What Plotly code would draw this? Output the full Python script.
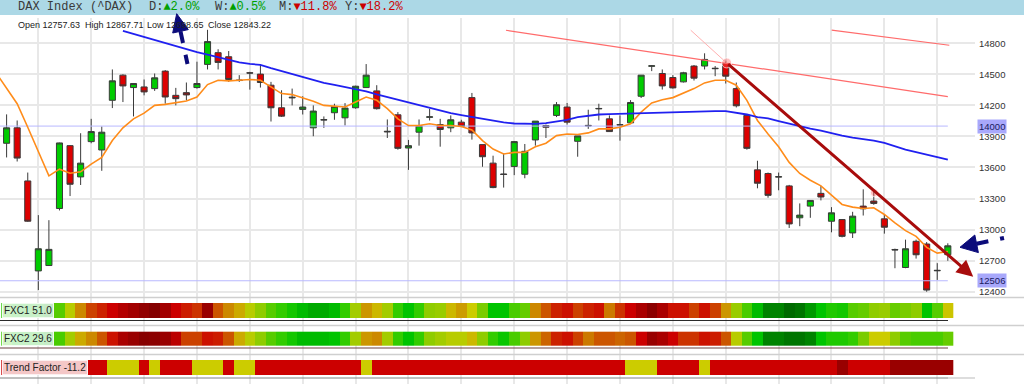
import plotly.graph_objects as go

# ---------------- data ----------------
idx = list(range(90))
opens = [13834, 13983, 13470, 12601, 12653, 13204, 13811, 13509, 13850, 13769,
         14249, 14492, 14372, 14378, 14362, 14531, 14297, 14323, 14372, 14596,
         14709, 14670, 14445, 14515, 14502, 14395, 14177, 14272, 14161, 13983,
         14058, 14129, 14080, 14177, 14372, 14340, 13950, 14109, 13788, 13941,
         14085, 14015, 13983, 14038, 14275, 13821, 13642, 13537, 13610, 13535,
         13866, 14005, 14103, 14184, 13853, 14007, 14166, 14070, 14014, 14031,
         14288, 14578, 14508, 14469, 14427, 14580, 14580, 14559, 14605, 14362,
         14103, 13577, 13542, 13507, 13422, 13114, 13227, 13350, 13081, 13097,
         12968, 13227, 13276, 13104, 12808, 12634, 12887, 12861, 12602, 12757.63]
highs = [14113, 14054, 13551, 13140, 13091, 13840, 13815, 13931, 14070, 13996,
         14547, 14500, 14411, 14450, 14508, 14541, 14369, 14421, 14622, 14930,
         14742, 14725, 14492, 14524, 14599, 14427, 14346, 14362, 14288, 14200,
         14093, 14216, 14222, 14390, 14599, 14395, 14064, 14135, 13866, 14064,
         14168, 14070, 14103, 14061, 14320, 13821, 13714, 13736, 13855, 13827,
         14048, 14015, 14232, 14223, 13905, 14158, 14216, 14103, 14103, 14251,
         14492, 14590, 14547, 14492, 14524, 14590, 14703, 14580, 14631, 14421,
         14110, 13665, 13551, 13551, 13432, 13253, 13285, 13422, 13217, 13100,
         13172, 13389, 13389, 13146, 12816, 12903, 12903, 12880, 12676, 12867.71]
lows = [13697, 13658, 13075, 12416, 12650, 13185, 13324, 13431, 13834, 13568,
        14174, 14232, 14093, 14297, 14340, 14216, 14200, 14249, 14362, 14547,
        14547, 14427, 14427, 14352, 14372, 14044, 14088, 14200, 14112, 13902,
        13983, 14061, 14006, 14168, 14372, 14160, 13885, 13772, 13577, 13811,
        14054, 13801, 13941, 13990, 13869, 13607, 13400, 13406, 13526, 13496,
        13811, 13885, 14087, 14015, 13704, 13973, 14054, 13947, 13859, 14022,
        14271, 14531, 14353, 14362, 14421, 14440, 14547, 14482, 14411, 14180,
        13772, 13399, 13308, 13380, 13016, 13033, 13114, 13282, 12974, 12925,
        12919, 13136, 13240, 12961, 12627, 12627, 12720, 12400, 12514, 12698.65]
closes = [13983, 13691, 13081, 12815, 12809, 13837, 13438, 13642, 13947, 13941,
          14437, 14388, 14411, 14330, 14466, 14281, 14265, 14301, 14411, 14816,
          14615, 14450, 14440, 14512, 14421, 14177, 14096, 14278, 14184, 14145,
          14062, 14190, 14174, 14385, 14492, 14168, 13945, 13785, 13811, 14005,
          14089, 13967, 14061, 13996, 13934, 13704, 13406, 13533, 13850, 13756,
          14048, 13989, 14206, 14038, 13905, 14003, 14170, 13947, 14010, 14228,
          14492, 14582, 14388, 14369, 14515, 14463, 14644, 14555, 14482, 14196,
          13785, 13448, 13331, 13511, 13055, 13140, 13282, 13315, 13162, 12935,
          13130, 13201, 13253, 13023, 12804, 12815, 12757, 12416, 12606, 12843.22]

ma_fast_x = [-1] + idx
ma_fast = [14514,
           14370, 14216, 13989, 13762, 13519, 13584, 13545, 13558, 13632, 13697,
           13860, 13983, 14070, 14125, 14200, 14210, 14223, 14242, 14281, 14401,
           14443, 14437, 14443, 14450, 14443, 14378, 14314, 14304, 14275, 14239,
           14200, 14190, 14184, 14232, 14281, 14249, 14168, 14070, 14005, 14005,
           14022, 14005, 14005, 13996, 13963, 13860, 13778, 13730, 13746, 13746,
           13801, 13834, 13908, 13924, 13918, 13934, 13973, 13973, 13989, 14022,
           14135, 14223, 14255, 14275, 14320, 14362, 14417, 14443, 14443, 14395,
           14249, 14054, 13924, 13801, 13649, 13542, 13477, 13422, 13334, 13243,
           13217, 13204, 13211, 13146, 13065, 12990, 12935, 12828, 12773, 12789]
ma_slow_x = idx[11:]
ma_slow = [14919, 14890, 14856, 14830, 14800, 14768, 14738, 14715, 14690,
           14665, 14642, 14616, 14600, 14592, 14560, 14531, 14508, 14476, 14450,
           14417, 14398, 14378, 14356, 14336, 14307, 14281, 14255, 14223, 14197,
           14171, 14148, 14125, 14106, 14087, 14067, 14051, 14035, 14025, 14022,
           14022, 14028, 14044, 14061, 14087, 14100, 14112, 14116, 14119, 14125,
           14129, 14132, 14135, 14135, 14138, 14138, 14142, 14145, 14145, 14132,
           14112, 14087, 14074, 14048, 14022, 13999, 13976, 13957, 13931, 13908,
           13889, 13876, 13860, 13837, 13801, 13772, 13749, 13727, 13701, 13675]

fxc1 = [32, 27, 26, 25, 15, 38, 48, 60, 70, 75,
        80, 86, 90, 94, 97, 90, 80, 76, 72, 92,
        67, 60, 55, 48, 44, 38, 33, 30, 26, 22,
        22, 26, 33, 46, 58, 53, 46, 33, 28, 33,
        44, 45, 53, 57, 50, 42, 28, 28, 36, 40,
        60, 67, 75, 78, 70, 75, 78, 62, 72, 80,
        88, 95, 88, 78, 78, 70, 78, 70, 58, 45,
        36, 26, 10, 10, 2, 6, 15, 28, 31, 30,
        38, 40, 44, 45, 40, 42, 44, 28, 38, 51]
fxc2 = [34, 28, 27, 27, 22, 36, 46, 55, 60, 67,
        78, 88, 92, 96, 95, 92, 84, 70, 70, 78,
        76, 67, 55, 48, 44, 38, 33, 30, 26, 26,
        26, 28, 33, 46, 58, 60, 46, 33, 28, 33,
        44, 46, 48, 48, 53, 44, 33, 29, 36, 44,
        58, 65, 75, 78, 70, 62, 67, 67, 65, 67,
        80, 92, 88, 80, 72, 72, 78, 76, 67, 48,
        38, 28, 10, 10, 6, 6, 10, 28, 31, 31,
        33, 42, 50, 50, 44, 38, 36, 36, 36, 40]
# 0 = neutral (yellow), 1 = down (red), 2 = strong down (dark red)
trend = [1, 1, 1, 1, 1, 1, 1, 1, 1, 1,
         0, 0, 0, 1, 0, 1, 1, 1, 0, 0,
         0, 1, 0, 0, 1, 1, 1, 1, 1, 1,
         1, 1, 1, 1, 0, 1, 1, 1, 1, 1,
         1, 1, 1, 1, 1, 1, 1, 1, 1, 1,
         1, 1, 1, 1, 1, 1, 1, 1, 1, 0,
         0, 0, 1, 1, 1, 1, 0, 1, 1, 1,
         1, 1, 1, 1, 1, 1, 1, 1, 1, 2,
         1, 1, 1, 1, 2, 2, 2, 2, 2, 2]

price_ticks = [12400, 12700, 13000, 13300, 13600, 13900, 14200, 14500, 14800]
level_values = [14000, 12506]
week_ticks = list(range(3, 90, 5))
channel_lower_x = [47.22, 89.0]
channel_lower_y = [14926, 14284]
channel_upper_x = [78.02, 89.14]
channel_upper_y = [14926, 14781]
guide_x = [64.69, 68.09]
guide_y = [14926, 14610]
trend_arrow_x = [68.09, 91.4]
trend_arrow_y = [14610, 12545]
touch_x = [68.09, 82.05]
touch_y = [14610, 13357]

header_parts = [("DAX Index (^DAX)", None, 16),
                ("D:", ("▲2.0%", "#00a000"), 146.7),
                ("W:", ("▲0.5%", "#00a000"), 212.7),
                ("M:", ("▼11.8%", "#cc0000"), 276.7),
                ("Y:", ("▼18.2%", "#cc0000"), 343.3)]
info_parts = [("Open 12757.63", 16), ("High 12867.71", 83),
              ("Low 12698.65", 145), ("Close 12843.22", 206)]
strip_labels = [("FXC1 51.0", "y2"), ("FXC2 29.6", "y3"), ("Trend Factor -11.2", "y4")]

# ---------------- geometry helpers ----------------
W, H = 1024, 384
ML, MR, MT, MB = 0, 49, 18, 0
PW = W - ML - MR
PH = H - MT - MB


def px(x):
    return (x - ML) / PW


def py(y):
    return (H - MB - y) / PH


XR = [-0.624, 91.57]
GRID = "#e8e8e8"

fig = go.Figure()

# level lines
for lv in level_values:
    fig.add_trace(go.Scatter(x=[XR[0], idx[-1]], y=[lv, lv], mode="lines",
                             line=dict(color="#b8b8ff", width=1), hoverinfo="skip",
                             showlegend=False, xaxis="x", yaxis="y"))

# channel lines
fig.add_trace(go.Scatter(x=channel_lower_x, y=channel_lower_y, mode="lines",
                         line=dict(color="#ff6b6b", width=1.2), hoverinfo="skip", showlegend=False))
fig.add_trace(go.Scatter(x=channel_upper_x, y=channel_upper_y, mode="lines",
                         line=dict(color="#ff6b6b", width=1.2), hoverinfo="skip", showlegend=False))
fig.add_trace(go.Scatter(x=guide_x, y=guide_y, mode="lines",
                         line=dict(color="#ffb0b0", width=1), hoverinfo="skip", showlegend=False))

# candles
fig.add_trace(go.Candlestick(
    x=idx, open=opens, high=highs, low=lows, close=closes,
    increasing=dict(fillcolor="#00cc00", line=dict(color="#3a3a3a", width=1)),
    decreasing=dict(fillcolor="#dd0000", line=dict(color="#3a3a3a", width=1)),
    whiskerwidth=0, hoverinfo="skip", showlegend=False, xaxis="x", yaxis="y"))

# moving averages
fig.add_trace(go.Scatter(x=ma_fast_x, y=ma_fast, mode="lines",
                         line=dict(color="#ff8c1a", width=1.6), hoverinfo="skip", showlegend=False))
fig.add_trace(go.Scatter(x=ma_slow_x, y=ma_slow, mode="lines",
                         line=dict(color="#2020f0", width=1.8), hoverinfo="skip", showlegend=False))

# touch points
fig.add_trace(go.Scatter(x=touch_x, y=touch_y, mode="markers",
                         marker=dict(size=[10, 8], color="rgba(255,90,90,0.55)"),
                         hoverinfo="skip", showlegend=False))

# indicator strips
fxc_scale = [[0.00, "#006400"], [0.08, "#007a00"], [0.15, "#009900"], [0.22, "#00aa00"],
             [0.28, "#00c400"], [0.33, "#33cc00"], [0.40, "#66cc00"], [0.45, "#99cc00"],
             [0.50, "#cccc00"], [0.56, "#cca300"], [0.60, "#cc8800"], [0.67, "#cc5500"],
             [0.72, "#cc3300"], [0.78, "#cc1100"], [0.80, "#cc0000"], [0.88, "#aa0000"],
             [0.92, "#990000"], [1.00, "#770000"]]
tf_scale = [[0, "#cccc00"], [0.25, "#cccc00"], [0.25, "#cc0000"], [0.75, "#cc0000"],
            [0.75, "#990000"], [1, "#990000"]]
fig.add_trace(go.Heatmap(x=idx, y=[0], z=[fxc1], zmin=0, zmax=100, colorscale=fxc_scale,
                         showscale=False, hoverinfo="skip", xaxis="x2", yaxis="y2"))
fig.add_trace(go.Heatmap(x=idx, y=[0], z=[fxc2], zmin=0, zmax=100, colorscale=fxc_scale,
                         showscale=False, hoverinfo="skip", xaxis="x3", yaxis="y3"))
fig.add_trace(go.Heatmap(x=idx, y=[0], z=[trend], zmin=0, zmax=2, colorscale=tf_scale,
                         showscale=False, hoverinfo="skip", xaxis="x4", yaxis="y4"))

# ---------------- axes ----------------
xcommon = dict(range=XR, tickvals=week_ticks, showgrid=True, gridcolor=GRID, gridwidth=1.5,
               showticklabels=False, zeroline=False, showline=False, ticks="",
               fixedrange=True)
fig.update_layout(
    width=W, height=H,
    margin=dict(l=ML, r=MR, t=MT, b=MB),
    paper_bgcolor="white", plot_bgcolor="white",
    showlegend=False,
    boxgap=0.18,
    xaxis=dict(**xcommon, anchor="y", rangeslider=dict(visible=False)),
    xaxis2=dict(**xcommon, anchor="y2", matches="x"),
    xaxis3=dict(**xcommon, anchor="y3", matches="x"),
    xaxis4=dict(**xcommon, anchor="y4", matches="x"),
    yaxis=dict(domain=[py(297), 1], range=[12349, 15044], side="right", anchor="x",
               tickvals=price_ticks, ticktext=[str(v) for v in price_ticks],
               tickfont=dict(family="Liberation Sans, Arial", size=9.5, color="#333333"),
               showgrid=True, gridcolor=GRID, gridwidth=1.5, zeroline=False,
               showline=False, ticks="", ticklabelstandoff=3),
    yaxis2=dict(domain=[py(325.5), py(297)], range=[-1.0, 0.9], anchor="x2", visible=False),
    yaxis3=dict(domain=[py(354.5), py(325.5)], range=[-1.129, 0.943], anchor="x3", visible=False),
    yaxis4=dict(domain=[0, py(354.5)], range=[-1.1, 0.867], anchor="x4", visible=False),
)

shapes = []
# header bar
shapes.append(dict(type="rect", xref="paper", yref="paper", x0=px(0), x1=px(W),
                   y0=py(15), y1=py(0), fillcolor="#acd8e6", line=dict(width=0), layer="below"))
# row separators
for yy in (297.5, 325.5, 354.5):
    shapes.append(dict(type="line", xref="paper", yref="paper", x0=px(0), x1=px(W),
                       y0=py(yy), y1=py(yy), line=dict(color="#cfcfcf", width=1.5)))
# small oscillator baselines under strips
for yy, col in ((320.5, "#2a2a2a"), (348, "#6a4040"), (378, "#808080")):
    shapes.append(dict(type="line", xref="paper", yref="paper", x0=px(0), x1=px(948),
                       y0=py(yy), y1=py(yy), line=dict(color=col, width=1)))
shapes.append(dict(type="line", xref="paper", yref="paper", x0=px(948), x1=px(975),
                   y0=py(378), y1=py(378), line=dict(color="#dddddd", width=2)))

NAVY = "#0b0b7a"
# top navy arrow (dashed shaft + head)
shapes.append(dict(type="line", xref="paper", yref="paper", x0=px(180.5), y0=py(31.3),
                   x1=px(187.5), y1=py(64), line=dict(color=NAVY, width=4, dash="dash")))
shapes.append(dict(type="path", xref="paper", yref="paper",
                   path=f"M {px(176.7)},{py(13.7)} L {px(188.3)},{py(29.6)} L {px(172.7)},{py(33)} Z",
                   fillcolor=NAVY, line=dict(color=NAVY, width=1)))
# right navy arrow
shapes.append(dict(type="line", xref="paper", yref="paper", x0=px(976.6), y0=py(243.8),
                   x1=px(1004), y1=py(238), line=dict(color=NAVY, width=4, dash="dash")))
shapes.append(dict(type="path", xref="paper", yref="paper",
                   path=f"M {px(960)},{py(247.3)} L {px(978.4)},{py(252.6)} L {px(974.8)},{py(235)} Z",
                   fillcolor=NAVY, line=dict(color=NAVY, width=1)))
fig.update_layout(shapes=shapes)

ann = []
# header
for label, colored, x0 in header_parts:
    txt = label
    if colored:
        txt += f"<span style='color:{colored[1]}'>{colored[0]}</span>"
    ann.append(dict(text=txt, xref="paper", yref="paper", x=px(x0), y=py(7.5),
                    xanchor="left", yanchor="middle", showarrow=False,
                    font=dict(family="Liberation Mono, Courier New, monospace", size=12,
                              color="#3a3a3a")))
# info line
for txt, x0 in info_parts:
    ann.append(dict(text=txt, xref="paper", yref="paper", x=px(x0), y=py(25),
                    xanchor="left", yanchor="middle", showarrow=False,
                    font=dict(family="Liberation Sans, Arial", size=9, color="#222222")))
# level labels
for lv in level_values:
    ann.append(dict(text=str(lv), xref="paper", yref="y", x=1, y=lv, xshift=2,
                    xanchor="left", yanchor="middle", showarrow=False,
                    bgcolor="#a8a8fb", borderpad=1,
                    font=dict(family="Liberation Sans, Arial", size=9.5, color="#1a1a60")))
# strip labels
for txt, yref in strip_labels:
    ann.append(dict(text=txt, xref="paper", yref=yref, x=px(2), y=0,
                    xanchor="left", yanchor="middle", showarrow=False,
                    bgcolor="rgba(255,255,255,0.78)", bordercolor="rgba(255,255,255,0.9)",
                    borderwidth=1, borderpad=1,
                    font=dict(family="Liberation Sans, Arial", size=10, color="#222222")))
# trend arrow
ann.append(dict(text="", x=trend_arrow_x[1], y=trend_arrow_y[1], xref="x", yref="y",
                ax=trend_arrow_x[0], ay=trend_arrow_y[0], axref="x", ayref="y",
                showarrow=True, arrowhead=2, arrowsize=1.1, arrowwidth=3,
                arrowcolor="#a80c0c"))
fig.update_layout(annotations=ann)

fig.write_html("out.html")
